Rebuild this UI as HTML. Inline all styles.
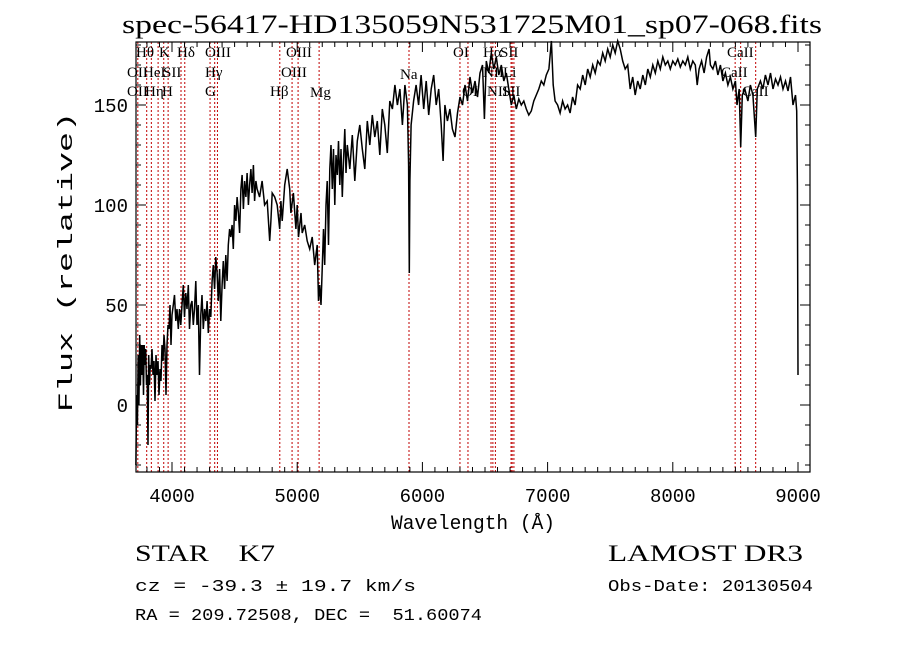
<!DOCTYPE html>
<html><head><meta charset="utf-8"><style>
body{margin:0;background:#fff;}
svg text{font-family:"Liberation Serif",serif;fill:#000;white-space:pre;}
.mono{font-family:"Liberation Mono",monospace;}
</style></head><body>
<svg id="chart" width="900" height="649" viewBox="0 0 900 649" xmlns="http://www.w3.org/2000/svg" xml:space="preserve">
<rect width="900" height="649" fill="#fff"/>
<text x="122" y="33" font-size="26" textLength="700" lengthAdjust="spacingAndGlyphs">spec-56417-HD135059N531725M01_sp07-068.fits</text>
<g id="lines"></g>
<g id="labels"></g>
<g id="axes"></g>
<path id="spec" fill="none" stroke="#000" stroke-width="1.5"/>
<text transform="translate(72,262) rotate(-90)" text-anchor="middle" font-size="20" class="mono" textLength="300" lengthAdjust="spacingAndGlyphs">Flux (relative)</text>
<text x="473" y="529" text-anchor="middle" font-size="20" class="mono" textLength="164" lengthAdjust="spacingAndGlyphs">Wavelength (Å)</text>
<text x="135" y="561" font-size="23" textLength="140" lengthAdjust="spacingAndGlyphs">STAR    K7</text>
<text x="608" y="561" font-size="23" textLength="195" lengthAdjust="spacingAndGlyphs">LAMOST DR3</text>
<text x="135" y="591" font-size="17" class="mono" textLength="281" lengthAdjust="spacingAndGlyphs">cz = -39.3 ± 19.7 km/s</text>
<text x="608" y="591" font-size="17" class="mono" textLength="205" lengthAdjust="spacingAndGlyphs">Obs-Date: 20130504</text>
<text x="135" y="620" font-size="17" class="mono" textLength="347" lengthAdjust="spacingAndGlyphs">RA = 209.72508, DEC =  51.60074</text>
</svg>
<script>
const waves=[3712,3718,3724,3730,3736,3742,3748,3754,3760,3766,3772,3778,3784,3790,3796,3802,3808,3814,3820,3826,3832,3840,3848,3856,3864,3872,3880,3888,3896,3904,3912,3920,3928,3936,3944,3952,3960,3968,3976,3984,3992,4000,4010,4020,4030,4040,4050,4060,4070,4080,4090,4100,4110,4120,4130,4140,4150,4160,4170,4180,4190,4200,4210,4220,4230,4240,4250,4260,4270,4280,4290,4300,4310,4320,4330,4340,4350,4360,4370,4380,4390,4400,4410,4420,4430,4440,4450,4460,4470,4480,4490,4500,4510,4520,4530,4540,4550,4560,4570,4580,4590,4600,4610,4620,4630,4640,4650,4660,4670,4680,4700,4720,4740,4760,4780,4790,4800,4820,4840,4860,4870,4880,4900,4920,4940,4950,4970,4990,5000,5010,5030,5040,5060,5080,5100,5120,5140,5160,5170,5180,5190,5200,5210,5220,5230,5240,5250,5260,5270,5280,5290,5300,5310,5320,5330,5340,5350,5360,5370,5380,5390,5400,5420,5440,5460,5480,5500,5520,5540,5560,5580,5600,5620,5640,5660,5680,5700,5720,5740,5760,5780,5800,5820,5840,5860,5880,5890,5895,5900,5910,5930,5950,5970,5990,6010,6030,6050,6070,6090,6110,6130,6150,6165,6180,6200,6220,6240,6260,6280,6300,6320,6340,6360,6380,6400,6420,6440,6460,6480,6495,6510,6530,6550,6570,6590,6610,6630,6650,6670,6690,6710,6730,6750,6770,6790,6810,6830,6850,6870,6890,6910,6930,6950,6970,6990,7010,7030,7045,7060,7080,7100,7120,7140,7160,7180,7200,7220,7240,7260,7280,7300,7320,7340,7360,7380,7400,7420,7440,7460,7480,7500,7520,7540,7560,7580,7600,7620,7640,7660,7680,7700,7720,7740,7760,7780,7800,7820,7840,7860,7880,7900,7920,7940,7960,7980,8000,8020,8040,8060,8080,8100,8120,8140,8160,8180,8195,8210,8230,8250,8270,8290,8300,8320,8340,8360,8380,8400,8420,8440,8460,8480,8500,8513,8530,8542,8555,8575,8600,8620,8640,8662,8675,8700,8720,8740,8760,8780,8800,8820,8840,8860,8880,8900,8920,8940,8960,8980,8990,8995,9000];
const flux=[-30,5,-10,25,0,35,10,30,15,30,5,30,20,28,10,15,-20,25,10,20,18,28,15,22,2,25,15,22,5,18,12,30,22,35,28,5,30,40,38,50,30,45,50,55,42,48,38,48,40,50,60,44,56,48,60,38,50,52,40,48,62,40,50,15,45,55,38,48,42,52,36,48,44,62,70,58,74,66,52,68,42,60,72,58,75,62,80,88,84,90,78,100,92,104,96,86,108,115,98,112,104,116,100,110,118,106,120,102,112,108,104,112,100,102,82,92,106,104,100,88,102,92,110,118,108,96,106,88,100,84,96,86,90,82,78,84,70,80,52,60,50,68,88,70,100,112,80,118,130,108,128,100,125,115,132,110,128,104,122,138,116,130,118,135,112,132,140,128,118,142,130,145,134,142,125,148,140,126,152,148,160,150,158,140,160,150,120,66,112,140,152,160,150,165,148,162,145,158,165,150,158,140,122,150,142,148,138,134,146,154,150,160,152,164,156,162,154,166,170,143,172,166,176,168,174,165,170,162,166,158,150,155,148,153,150,152,148,145,147,152,155,158,162,160,165,168,182,160,152,150,146,152,148,150,146,154,150,160,158,165,160,168,164,170,166,172,170,176,172,178,174,180,176,182,178,172,168,170,158,164,155,162,158,165,160,168,164,170,166,172,168,174,170,172,168,172,170,173,169,172,170,174,168,172,170,160,168,172,166,174,178,170,168,172,165,170,162,166,160,164,158,162,150,158,129,155,158,152,160,155,134,158,162,158,165,160,166,158,163,160,164,158,162,157,164,150,155,147,110,15];
const lineWaves=[3727,3798,3835,3889,3934,3969,4072,4102,4304,4341,4363,4861,4959,5007,5175,5893,6300,6364,6548,6563,6583,6708,6717,6731,8498,8542,8662];
const xTicks=[4000,5000,6000,7000,8000,9000];
const yTicks=[0,50,100,150];
const NS='http://www.w3.org/2000/svg';
const L=136,R=810,T=42,B=472;
const X=w=>172+(w-4000)*0.1252;
const Y=f=>405-f*2;
function mk(tag,attrs,parent){const e=document.createElementNS(NS,tag);for(const k in attrs)e.setAttribute(k,attrs[k]);parent.appendChild(e);return e;}
const gl=document.getElementById('lines');
lineWaves.forEach(w=>{const e=mk('line',{x1:X(w),x2:X(w),y1:T,y2:B,stroke:'#c00000','stroke-width':1,'stroke-dasharray':'2,2'},gl);

});
const labs=[['Hθ',136,57],['K',159,57],['Hδ',177,57],['OIII',205,57],['OIII',286,57],['OI',453,57],['Hα',483,57],['SII',500,57],['CaII',727,57],
['OII',127,77],['HeI',143,77],['SII',163,77],['Hγ',205,77],['OIII',281,77],['Na',400,79],['NII',483,77],['Li',503,77],['CaII',721,77],
['OII',127,96],['Hη',145,96],['H',162,96],['G',205,96],['Hβ',270,96],['Mg',310,97],['OI',462,96],['NII',487,96],['SII',502,96],['CaII',742,96]];
const glab=document.getElementById('labels');
labs.forEach(a=>{const t=mk('text',{x:a[1],y:a[2],'font-size':15},glab);t.textContent=a[0];

});
let d='';waves.forEach((w,i)=>{d+=(i?'L':'M')+X(w).toFixed(1)+','+Y(flux[i]).toFixed(1);});
document.getElementById('spec').setAttribute('d',d);
const ga=document.getElementById('axes');
mk('rect',{x:L,y:T,width:R-L,height:B-T,fill:'none',stroke:'#000','stroke-width':1.2},ga);
for(let w=3800;w<=9000;w+=100){const x=X(w);const maj=w%1000===0;const len=maj?10:5;
mk('line',{x1:x,x2:x,y1:B,y2:B-len,stroke:'#000'},ga);mk('line',{x1:x,x2:x,y1:T,y2:T+len,stroke:'#000'},ga);}
xTicks.forEach(w=>{const t=mk('text',{x:X(w),y:502,'text-anchor':'middle','font-size':19,class:'mono'},ga);t.textContent=w;

});
for(let f=-30;f<=180;f+=10){const y=Y(f);const maj=f%50===0;const len=maj?10:5;
mk('line',{x1:L,x2:L+len,y1:y,y2:y,stroke:'#000'},ga);mk('line',{x1:R,x2:R-len,y1:y,y2:y,stroke:'#000'},ga);}
yTicks.forEach(f=>{const t=mk('text',{x:128,y:Y(f)+7,'text-anchor':'end','font-size':19,class:'mono'},ga);t.textContent=f;

});
</script>
</body></html>
